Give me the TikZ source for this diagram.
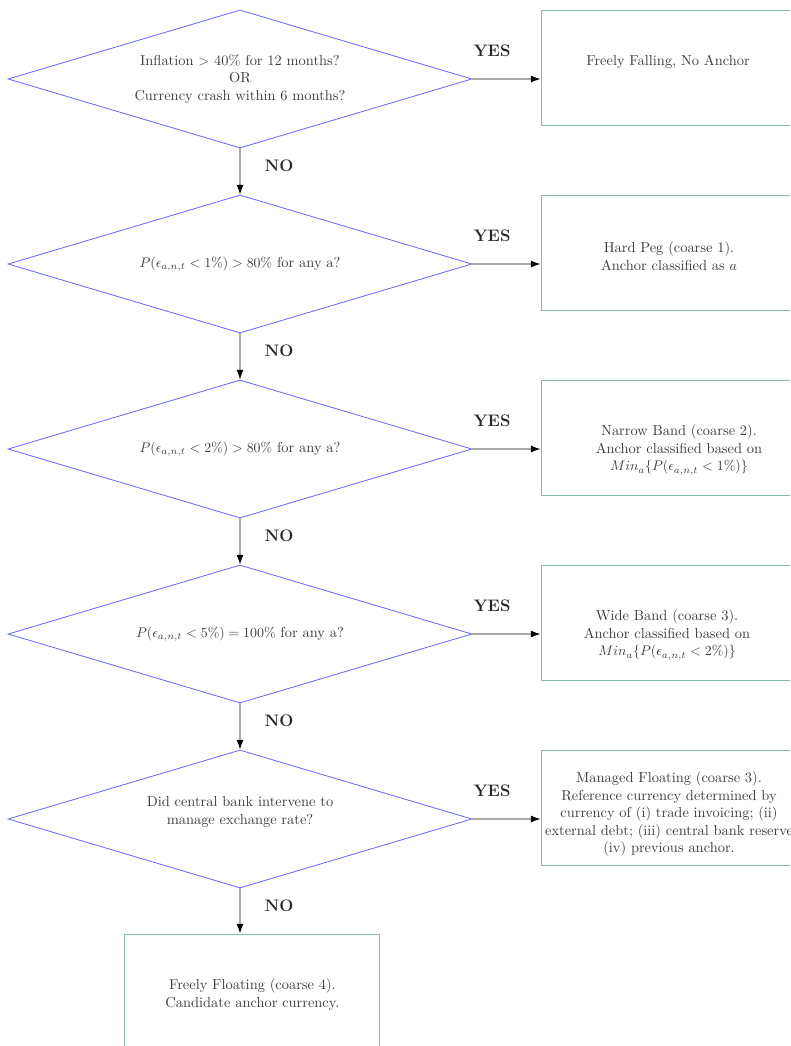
\documentclass[tikz,border=0pt]{standalone}
\usetikzlibrary{shapes.geometric,arrows.meta}
\definecolor{dblue}{RGB}{105,105,250}
\definecolor{bgreen}{RGB}{130,190,160}
\definecolor{txt}{RGB}{60,60,60}
\definecolor{lgray}{RGB}{170,170,170}
\begin{document}
\begin{tikzpicture}[x=0.72pt,y=-0.72pt,
  every node/.style={font=\fontsize{10.4pt}{12.6pt}\selectfont},
  dec/.style={diamond, draw=dblue, line width=0.6pt, aspect=3.36,
    minimum width=334pt, minimum height=99.4pt, inner sep=0pt,
    align=center, text=txt},
  res/.style={rectangle, draw=bgreen, line width=0.6pt,
    minimum width=182.9pt, minimum height=82.8pt, inner sep=0pt},
  rtext/.style={align=center, text=txt, inner sep=0pt},
  lab/.style={font=\large\bfseries, text=black!85, inner sep=0pt},
  arr/.style={draw=lgray, line width=0.8pt, -{Latex[black,length=7pt,width=5pt]}}]
\useasboundingbox (0,0) rectangle (790,1046);
\clip (0,0) rectangle (790,1046);

% decisions
\node[dec] (d1) at (240,79) {Inflation $>$ 40\% for 12 months?\\OR\\Currency crash within 6 months?};
\node[dec] (d2) at (240,264) {$P(\epsilon_{a,n,t} < 1\%) > 80\%$ for any a?};
\node[dec] (d3) at (240,449) {$P(\epsilon_{a,n,t} < 2\%) > 80\%$ for any a?};
\node[dec] (d4) at (240,634) {$P(\epsilon_{a,n,t} < 5\%) = 100\%$ for any a?};
\node[dec] (d5) at (240,819) {Did central bank intervene to\\manage exchange rate?\\\mbox{}};

% result boxes
\node[res] (b1) at (668,67.5) {};
\node[res] (b2) at (668,252.5) {};
\node[res] (b3) at (668,437.5) {};
\node[res] (b4) at (668,622.5) {};
\node[res] (b5) at (668,807.5) {};
\node[res, minimum width=183.6pt, minimum height=87.1pt, align=center, text=txt] (b6) at (252.4,994.5)
  {Freely Floating (coarse 4).\\Candidate anchor currency.};

% box texts
\node[rtext] (t1) at (668,62) {Freely Falling, No Anchor};
\node[rtext] (t2) at (669,256) {Hard Peg (coarse 1).\\Anchor classified as $a$};
\node[rtext] (t3) at (679,450) {Narrow Band (coarse 2).\\Anchor classified based on\\$Min_a\{P(\epsilon_{a,n,t} < 1\%)\}$};
\node[rtext] (t4) at (667,635) {Wide Band (coarse 3).\\Anchor classified based on\\$Min_a\{P(\epsilon_{a,n,t} < 2\%)\}$};
\node[rtext] (t5) at (669,814) {Managed Floating (coarse 3).\\Reference currency determined by\\currency of (i) trade invoicing; (ii)\\external debt; (iii) central bank reserve\\(iv) previous anchor.};

% YES arrows
\draw[arr] (d1.east) -- (b1.west |- d1.east);
\draw[arr] (d2.east) -- (b2.west |- d2.east);
\draw[arr] (d3.east) -- (b3.west |- d3.east);
\draw[arr] (d4.east) -- (b4.west |- d4.east);
\draw[arr] (d5.east) -- (b5.west |- d5.east);

% NO arrows
\draw[arr] (d1.south) -- (d2.north);
\draw[arr] (d2.south) -- (d3.north);
\draw[arr] (d3.south) -- (d4.north);
\draw[arr] (d4.south) -- (d5.north);
\draw[arr] (d5.south) -- (d5.south |- b6.north);

% labels
\node[lab] (y1) at (492,51) {YES};
\node[lab] (y2) at (492,236) {YES};
\node[lab] (y3) at (492,421) {YES};
\node[lab] (y4) at (492,606) {YES};
\node[lab] (y5) at (492,791) {YES};
\node[lab] (n1) at (279,166) {NO};
\node[lab] (n2) at (279,351) {NO};
\node[lab] (n3) at (279,536) {NO};
\node[lab] (n4) at (279,721) {NO};
\node[lab] (n5) at (279,906) {NO};
\end{tikzpicture}
\end{document}
